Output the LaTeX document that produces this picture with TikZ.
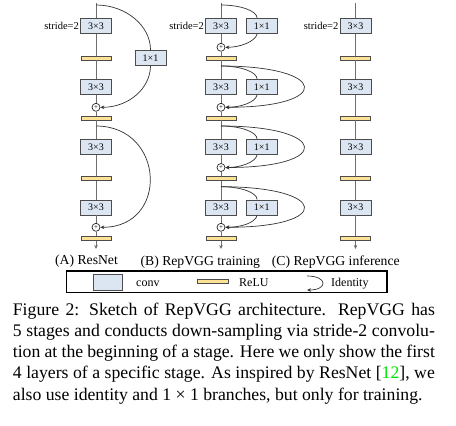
\documentclass[tikz,border=0pt]{standalone}
\usepackage{fontspec}
\setmainfont{Liberation Serif}
\usepackage{tikz}
\usetikzlibrary{%
  arrows.meta%
}

\definecolor{convblue}{RGB}{220,230,242}
\definecolor{reluyellow}{RGB}{253,226,150}
\definecolor{linegray}{RGB}{110,110,110}
\definecolor{citegreen}{RGB}{0,230,0}

\begin{document}
\begin{tikzpicture}[x=1pt,y=-1pt,
    conv/.style={draw=black!70,fill=convblue,line width=0.8pt,minimum width=31pt,
      minimum height=15pt,inner sep=0pt,font=\fontsize{10}{12}\selectfont},
    relu/.style={draw=black!70,fill=reluyellow,line width=0.7pt,minimum width=30pt,
      minimum height=4pt,inner sep=0pt},
    addnode/.style={circle,draw=black!85,fill=white,line width=0.7pt,minimum size=8pt,
      inner sep=0pt,font=\fontsize{7}{7}\selectfont},
    stridelabel/.style={anchor=east,inner sep=1pt,font=\fontsize{10.5}{12}\selectfont},
    mainline/.style={linegray,line width=0.9pt},
    branchline/.style={black!80,line width=0.7pt},
    arrowend/.style={-{Stealth[length=4pt,width=3.6pt]}},
    sublabel/.style={anchor=base,inner sep=0pt,font=\fontsize{13.7}{16}\selectfont},
    legendtext/.style={anchor=base west,inner sep=0pt,font=\fontsize{12}{14}\selectfont}]
  \useasboundingbox (0,0) rectangle (456,426);

  % (A) ResNet
  \coordinate (a-in) at (96,3);
  \coordinate (a-s1) at (96,5);
  \node [conv] (a-c1) at (96,26) {3×3};
  \node [stridelabel] (a-stride) at (a-c1.west) {stride=2};
  \node [relu] (a-r1) at (96,58) {};
  \node [conv] (a-c2) at (96,87) {3×3};
  \node [addnode] (a-p1) at (96,107.3) {+};
  \node [relu] (a-r2) at (96,118) {};
  \coordinate (a-s2) at (96,126);
  \node [conv] (a-c3) at (96,147) {3×3};
  \node [relu] (a-r3) at (96,178.7) {};
  \node [conv] (a-c4) at (96,207.5) {3×3};
  \node [addnode] (a-p2) at (96,227.3) {+};
  \node [relu] (a-r4) at (96,238.7) {};
  \coordinate (a-out) at (96,249);
  \node [conv] (a-k1) at (150.5,57.7) {1×1};
  \draw [mainline,arrowend] (a-in) -- (a-c1) -- (a-r1) -- (a-c2) -- (a-p1) -- (a-r2)
    -- (a-c3) -- (a-r3) -- (a-c4) -- (a-p2) -- (a-r4) -- (a-out);
  \draw [branchline] (a-s1) .. controls +(30,0) and +(0,-24) .. (a-k1.north);
  \draw [branchline,arrowend] (a-k1.south) .. controls +(0,23) and +(28,0) .. (a-p1.east);
  \draw [branchline,arrowend] (a-s2) .. controls +(69,0) and +(69,0) .. (a-p2.east);

  % (B) RepVGG training
  \coordinate (b-in) at (221,3);
  \coordinate (b-s1) at (221,5);
  \node [conv] (b-c1) at (221,26) {3×3};
  \node [stridelabel] (b-stride) at (b-c1.west) {stride=2};
  \node [conv] (b-k1) at (261.7,26) {1×1};
  \node [addnode] (b-p1) at (221,47.3) {+};
  \node [relu] (b-r1) at (221,58) {};
  \coordinate (b-s2) at (221,66);
  \node [conv] (b-c2) at (221,87) {3×3};
  \node [conv] (b-k2) at (261.7,87) {1×1};
  \node [addnode] (b-p2) at (221,107.3) {+};
  \node [relu] (b-r2) at (221,118) {};
  \coordinate (b-s3) at (221,126);
  \node [conv] (b-c3) at (221,147) {3×3};
  \node [conv] (b-k3) at (261.7,147) {1×1};
  \node [addnode] (b-p3) at (221,167.5) {+};
  \node [relu] (b-r3) at (221,178.7) {};
  \coordinate (b-s4) at (221,186.7);
  \node [conv] (b-c4) at (221,207.5) {3×3};
  \node [conv] (b-k4) at (261.7,207.5) {1×1};
  \node [addnode] (b-p4) at (221,227.3) {+};
  \node [relu] (b-r4) at (221,238.7) {};
  \coordinate (b-out) at (221,249);
  \draw [mainline,arrowend] (b-in) -- (b-c1) -- (b-p1) -- (b-r1) -- (b-c2) -- (b-p2)
    -- (b-r2) -- (b-c3) -- (b-p3) -- (b-r3) -- (b-c4) -- (b-p4) -- (b-r4) -- (b-out);
  \draw [branchline] (b-s1) .. controls +(20,0) and +(0,-7) .. (b-k1.120);
  \draw [branchline,arrowend] (b-k1.240) .. controls +(-2,8) and +(14,0) .. (b-p1.east);
  \draw [branchline] (b-s2) .. controls +(20,0) and +(0,-7) .. (b-k2.120);
  \draw [branchline,arrowend] (b-k2.240) .. controls +(-2,8) and +(14,0) .. (b-p2.east);
  \draw [branchline,arrowend] (b-s2) .. controls +(108,0) and +(108,0) .. (b-p2.east);
  \draw [branchline] (b-s3) .. controls +(20,0) and +(0,-7) .. (b-k3.120);
  \draw [branchline,arrowend] (b-k3.240) .. controls +(-2,8) and +(14,0) .. (b-p3.east);
  \draw [branchline,arrowend] (b-s3) .. controls +(108,0) and +(108,0) .. (b-p3.east);
  \draw [branchline] (b-s4) .. controls +(20,0) and +(0,-7) .. (b-k4.120);
  \draw [branchline,arrowend] (b-k4.240) .. controls +(-2,8) and +(14,0) .. (b-p4.east);
  \draw [branchline,arrowend] (b-s4) .. controls +(108,0) and +(108,0) .. (b-p4.east);

  % (C) RepVGG inference
  \coordinate (c-in) at (355.5,3);
  \node [conv] (c-c1) at (355.5,26) {3×3};
  \node [stridelabel] (c-stride) at (c-c1.west) {stride=2};
  \node [relu] (c-r1) at (355.5,58) {};
  \node [conv] (c-c2) at (355.5,87) {3×3};
  \node [relu] (c-r2) at (355.5,118) {};
  \node [conv] (c-c3) at (355.5,147) {3×3};
  \node [relu] (c-r3) at (355.5,178.7) {};
  \node [conv] (c-c4) at (355.5,207.5) {3×3};
  \node [relu] (c-r4) at (355.5,238.7) {};
  \coordinate (c-out) at (355.5,249);
  \draw [mainline,arrowend] (c-in) -- (c-c1) -- (c-r1) -- (c-c2) -- (c-r2)
    -- (c-c3) -- (c-r3) -- (c-c4) -- (c-r4) -- (c-out);

  \node [sublabel] (a-label) at (86.5,264) {(A) ResNet};
  \node [sublabel] (b-label) at (200.3,265.5) {(B) RepVGG training};
  \node [sublabel] (c-label) at (335.8,265.5) {(C) RepVGG inference};

  % legend
  \draw [line width=1.2pt] (66.7,271) rectangle (387,292.5);
  \node [conv,minimum width=29pt,minimum height=16.5pt] (lg-conv) at (108,282.5) {};
  \node [legendtext] (lg-conv-text) at (136,286.5) {conv};
  \node [relu,minimum width=30.6pt] (lg-relu) at (213,281.3) {};
  \node [legendtext] (lg-relu-text) at (239,286.5) {ReLU};
  \coordinate (lg-id-s) at (307,276);
  \coordinate (lg-id-e) at (307,290);
  \draw [branchline,arrowend] (lg-id-s) .. controls +(21,0) and +(21,0) .. (lg-id-e);
  \node [legendtext] (lg-id-text) at (331,286.5) {Identity};

  % caption
  \node [anchor=base west,inner sep=0pt,text width=422pt,
    font=\fontsize{17.7}{21.3}\selectfont] (caption) at (12.7,315) {%
    \spaceskip=0pt \xspaceskip=0pt
    \makebox[422pt][s]{Figure 2:  Sketch of RepVGG architecture.  RepVGG has}\\
    \makebox[422pt][s]{5 stages and conducts down-sampling via stride-2 convolu-}\\
    \makebox[422pt][s]{tion at the beginning of a stage. Here we only show the first}\\
    \makebox[422pt][s]{4 layers of a specific stage. As inspired by ResNet [\textcolor{citegreen}{12}], we}\\
    \mbox{also use identity and 1 × 1 branches, but only for training.}};
\end{tikzpicture}
\end{document}
